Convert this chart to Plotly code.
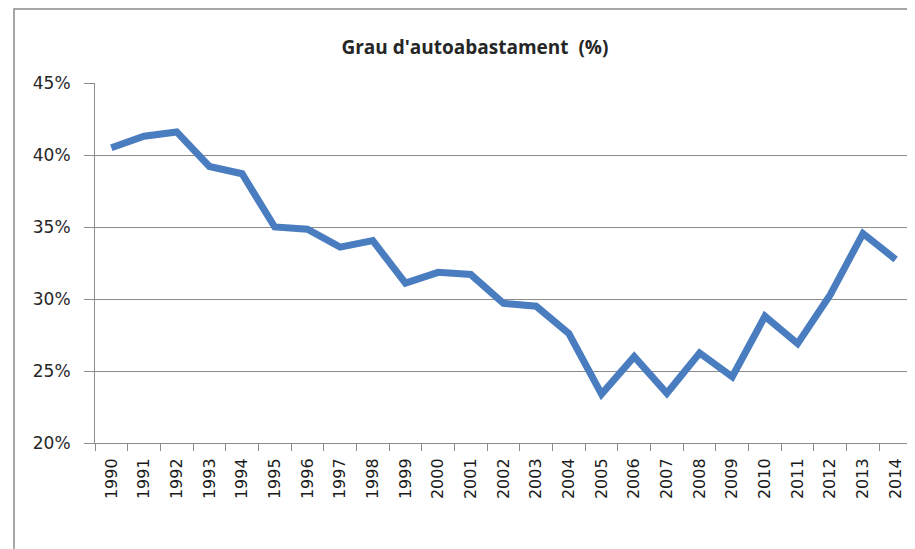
import plotly.graph_objects as go

years = [str(y) for y in range(1990, 2015)]
autoabastament = [40.5, 41.3, 41.6, 39.2, 38.7, 35.0, 34.85, 33.6, 34.05, 31.1,
                  31.85, 31.7, 29.7, 29.5, 27.6, 23.4, 26.0, 23.45, 26.25, 24.6,
                  28.8, 26.9, 30.3, 34.55, 32.75]
pct_values = [v / 100 for v in autoabastament]

line_color = '#4a7dbf'
grid_color = '#8c8c8c'
tick_font = 'DejaVu Sans'

# the page adds an 8px body margin, so the figure is drawn 8px smaller
W, H = 907, 541

fig = go.Figure()
fig.add_trace(go.Scatter(x=years, y=pct_values, mode='lines',
                         line=dict(color=line_color, width=7),
                         hoverinfo='x+y'))

fig.update_layout(
    width=W, height=H,
    margin=dict(l=87, r=3, t=75, b=106, autoexpand=False),
    paper_bgcolor='white', plot_bgcolor='white',
    showlegend=False,
    font=dict(family=tick_font, color='#262626'),
    title=dict(text="<b>Grau d'autoabastament  (%)</b>",
               font=dict(family='Open Sans', size=19, color='#262626'),
               xref='paper', x=0.465, xanchor='center',
               yref='container', y=1 - 39 / H, yanchor='middle'),
)

fig.update_xaxes(type='category', range=[-0.5, len(years) - 0.5],
                 tickson='boundaries', ticks='outside',
                 ticklen=7, tickcolor=grid_color, tickwidth=1,
                 showline=True, linecolor=grid_color, linewidth=1,
                 showgrid=False, tickangle=-90, automargin=False,
                 ticklabelstandoff=8,
                 tickfont=dict(family=tick_font, size=16, color='#1a1a1a'))
fig.update_yaxes(range=[0.20, 0.45], tickvals=[0.20, 0.25, 0.30, 0.35, 0.40, 0.45],
                 tickformat='.0%', ticks='outside', ticklen=10,
                 tickcolor=grid_color, tickwidth=1,
                 showline=True, linecolor=grid_color, linewidth=1,
                 showgrid=True, gridcolor=grid_color, gridwidth=1,
                 zeroline=False, ticklabelstandoff=10, automargin=False,
                 tickfont=dict(family=tick_font, size=17, color='#262626'))

# outer chart border (top and left edges visible in the reference)
plot_w = W - 87 - 3
plot_h = H - 75 - 106
fig.add_shape(type='rect', xref='paper', yref='paper',
              x0=(6 - 87) / plot_w, x1=1.1, y0=-0.4, y1=(plot_h + 75 - 1) / plot_h,
              line=dict(color='#8a8a8a', width=1.5), layer='below')

fig.write_html("out.html")
